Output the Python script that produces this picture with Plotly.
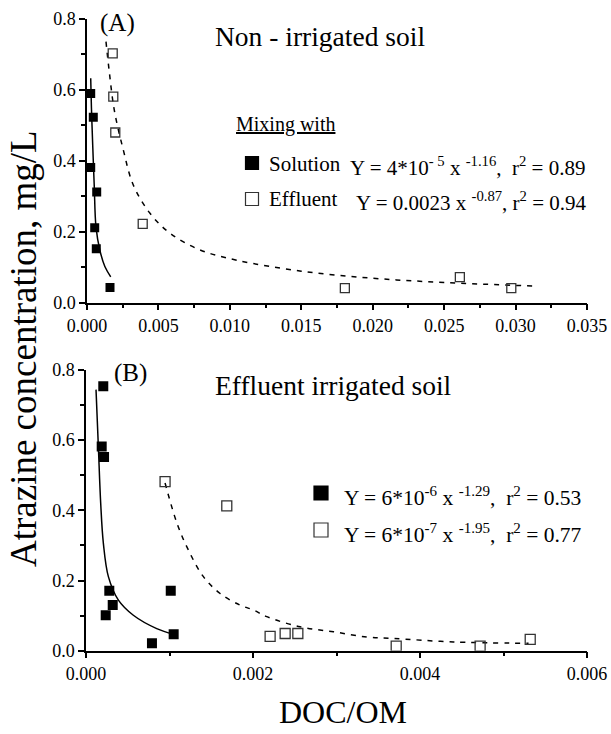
import plotly.graph_objects as go

# ---------------- data ----------------
# Panel A: non-irrigated soil
a_sol_x = [0.00026, 0.00044, 0.00026, 0.00068, 0.00054, 0.00065, 0.00161]
a_sol_y = [0.590, 0.523, 0.381, 0.312, 0.211, 0.152, 0.043]
a_eff_x = [0.00180, 0.00184, 0.00198, 0.00390, 0.01805, 0.02610, 0.02970]
a_eff_y = [0.703, 0.581, 0.480, 0.222, 0.041, 0.072, 0.041]
a_sol_fit_x = [0.00026, 0.00031, 0.00037, 0.00044, 0.00051, 0.00063, 0.00090, 0.00125, 0.00166]
a_sol_fit_y = [0.633, 0.550, 0.478, 0.400, 0.326, 0.213, 0.148, 0.102, 0.073]
a_eff_fit_x = [0.00133, 0.00156, 0.00191, 0.00254, 0.00324, 0.00441, 0.00581, 0.00790,
               0.01047, 0.01500, 0.02000, 0.02500, 0.03130]
a_eff_fit_y = [0.736, 0.651, 0.543, 0.431, 0.332, 0.252, 0.196, 0.149,
               0.120, 0.089, 0.069, 0.057, 0.047]

# Panel B: effluent irrigated soil
b_sol_x = [0.000207, 0.000188, 0.000216, 0.000279, 0.000320, 0.000236, 0.001015, 0.000790, 0.001050]
b_sol_y = [0.754, 0.582, 0.552, 0.171, 0.130, 0.101, 0.171, 0.021, 0.047]
b_eff_x = [0.000947, 0.001686, 0.002205, 0.002385, 0.002537, 0.003715, 0.004720, 0.005320]
b_eff_y = [0.482, 0.413, 0.041, 0.049, 0.049, 0.013, 0.013, 0.032]
b_sol_fit_x = [0.000120, 0.000148, 0.000176, 0.000208, 0.000268, 0.000388, 0.000567, 0.000847, 0.001050]
b_sol_fit_y = [0.744, 0.582, 0.420, 0.306, 0.211, 0.144, 0.101, 0.063, 0.047]
b_eff_fit_x = [0.000947, 0.001090, 0.001226, 0.001406, 0.001606, 0.001845, 0.002005, 0.002165,
               0.002564, 0.002963, 0.003364, 0.003683, 0.004400, 0.005300]
b_eff_fit_y = [0.478, 0.363, 0.287, 0.211, 0.163, 0.130, 0.116, 0.097,
               0.068, 0.054, 0.039, 0.035, 0.025, 0.021]

# ---------------- figure ----------------
W, H = 611, 734
FONT = "Liberation Serif"


def px(x):
    return x / W


def py(y):
    return 1 - y / H


fig = go.Figure()

DASH = "5px,6px"

fig.add_trace(go.Scatter(x=a_sol_fit_x, y=a_sol_fit_y, mode="lines", line=dict(color="black", width=1.5, shape="spline"),
                         xaxis="x", yaxis="y", hoverinfo="skip"))
fig.add_trace(go.Scatter(x=a_eff_fit_x, y=a_eff_fit_y, mode="lines", line=dict(color="black", width=1.5, dash=DASH, shape="spline"),
                         xaxis="x", yaxis="y", hoverinfo="skip"))
fig.add_trace(go.Scatter(x=a_sol_x, y=a_sol_y, mode="markers", name="Solution",
                         marker=dict(symbol="square", size=9, color="black"), xaxis="x", yaxis="y"))
fig.add_trace(go.Scatter(x=a_eff_x, y=a_eff_y, mode="markers", name="Effluent",
                         marker=dict(symbol="square-open", size=9, color="#333", line=dict(width=1.3)), xaxis="x", yaxis="y"))

fig.add_trace(go.Scatter(x=b_sol_fit_x, y=b_sol_fit_y, mode="lines", line=dict(color="black", width=1.5, shape="spline"),
                         xaxis="x2", yaxis="y2", hoverinfo="skip"))
fig.add_trace(go.Scatter(x=b_eff_fit_x, y=b_eff_fit_y, mode="lines", line=dict(color="black", width=1.5, dash=DASH, shape="spline"),
                         xaxis="x2", yaxis="y2", hoverinfo="skip"))
fig.add_trace(go.Scatter(x=b_sol_x, y=b_sol_y, mode="markers", name="Solution",
                         marker=dict(symbol="square", size=10, color="black"), xaxis="x2", yaxis="y2"))
fig.add_trace(go.Scatter(x=b_eff_x, y=b_eff_y, mode="markers", name="Effluent",
                         marker=dict(symbol="square-open", size=10, color="#333", line=dict(width=1.3)), xaxis="x2", yaxis="y2"))

tickfont = dict(family=FONT, size=18, color="black")
common = dict(showline=True, linecolor="black", linewidth=1.5, ticks="outside", ticklen=6, tickwidth=1.5,
              tickcolor="black", showgrid=False, zeroline=False, tickfont=tickfont, mirror=False,
              automargin=False)
minor_common = dict(ticks="outside", ticklen=4, tickwidth=1.5, tickcolor="black")

fig.update_layout(
    width=W, height=H, margin=dict(l=0, r=0, t=0, b=0, autoexpand=False),
    font=dict(family=FONT, size=18, color="black"),
    paper_bgcolor="white", plot_bgcolor="white", showlegend=False,
    xaxis=dict(domain=[px(87), px(587)], anchor="y", range=[0, 0.035], tick0=0, dtick=0.005, tickformat=".3f",
               minor=dict(dtick=0.0025, **minor_common), **common),
    yaxis=dict(domain=[py(302.7), py(19)], anchor="x", range=[0, 0.8], tick0=0, dtick=0.2, tickformat=".1f",
               minor=dict(dtick=0.1, **minor_common), **common),
    xaxis2=dict(domain=[px(86), px(587)], anchor="y2", range=[0, 0.006], tick0=0, dtick=0.002, tickformat=".3f",
                minor=dict(dtick=0.001, **minor_common), **common),
    yaxis2=dict(domain=[py(650.7), py(370)], anchor="x2", range=[0, 0.8], tick0=0, dtick=0.2, tickformat=".1f",
                minor=dict(dtick=0.1, **minor_common), **common),
)


def text(s, x, y, size, xanchor="left", angle=0):
    fig.add_annotation(text=s, x=px(x), y=py(y), xref="paper", yref="paper", showarrow=False,
                       xanchor=xanchor, yanchor="middle", textangle=angle,
                       font=dict(family=FONT, size=size, color="black"))


# panel labels and titles
text("(A)", 98, 23, 25)
text("Non - irrigated soil", 213, 36, 27.5)
text("(B)", 112, 373, 25)
text("Effluent irrigated soil", 213, 385, 27.5)

# legend panel A
text("<u>Mixing with</u>", 234, 124, 20)
text("Solution", 267, 164, 21)
text("Y = 4*10<sup>- 5</sup> x <sup>-1.16</sup>,  r<sup>2</sup> = 0.89", 348, 167, 21)
text("Effluent", 267, 199, 21)
text("Y = 0.0023 x <sup>-0.87</sup>, r<sup>2</sup> = 0.94", 354, 202, 21)

# legend panel B
text("Y = 6*10<sup>-6</sup> x <sup>-1.29</sup>,  r<sup>2</sup> = 0.53", 342, 496, 21.5)
text("Y = 6*10<sup>-7</sup> x <sup>-1.95</sup>,  r<sup>2</sup> = 0.77", 342, 533, 21.5)


# legend keys (squares)
def key(cx, cy, s, filled):
    fig.add_shape(type="rect", xref="paper", yref="paper",
                  x0=px(cx - s / 2), x1=px(cx + s / 2), y0=py(cy + s / 2), y1=py(cy - s / 2),
                  line=dict(color="#333" if not filled else "black", width=1.2),
                  fillcolor="black" if filled else "white")


key(252, 163, 13, True)
key(252, 199, 13, False)
key(321, 493, 14, True)
key(321, 530, 14, False)

# axis titles
text("Atrazine concentration, mg/L", 23, 349, 37, xanchor="center", angle=-90)
text("DOC/OM", 343, 712, 32, xanchor="center")

fig.write_html(
    "out.html",
    config={"displayModeBar": False},
    post_script="document.body.style.margin='0';document.body.style.overflow='hidden';",
)
